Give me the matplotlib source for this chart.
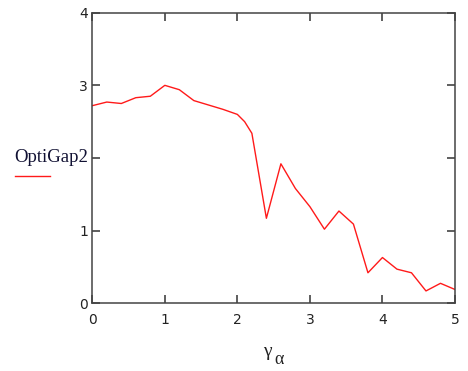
import numpy as np
import matplotlib
matplotlib.use("Agg")
import matplotlib.pyplot as plt
from matplotlib.lines import Line2D

# gamma_alpha values and OptiGap2
gamma = [0.0, 0.2, 0.4, 0.6, 0.8, 1.0, 1.2, 1.4, 1.6, 1.8, 2.0, 2.1, 2.2,
         2.4, 2.6, 2.8, 3.0, 3.2, 3.4, 3.6, 3.8, 4.0, 4.2, 4.4, 4.6, 4.8, 5.0]
optigap2 = [2.72, 2.77, 2.75, 2.83, 2.85, 3.00, 2.94, 2.79, 2.73, 2.67, 2.60, 2.50, 2.34,
            1.17, 1.92, 1.58, 1.33, 1.02, 1.27, 1.09, 0.42, 0.63, 0.47, 0.42, 0.17, 0.275, 0.19]

xticks = [0, 1, 2, 3, 4, 5]
yticks = [0, 1, 2, 3, 4]
# the "2" label sits under the legend text in the original
ytick_labels = ["0", "1", "", "3", "4"]

fig = plt.figure(figsize=(4.68, 3.71), dpi=100)
ax = fig.add_axes([0.1972, 0.1825, 0.775, 0.7833])

ax.plot(gamma, optigap2, color="#ff1a1a", lw=1.0)

ax.set_xlim(0, 5)
ax.set_ylim(0, 4)
ax.set_xticks(xticks)
ax.set_yticks(yticks)
ax.set_yticklabels(ytick_labels)
ax.tick_params(direction="in", length=6, width=1.1, color="#333333",
               top=True, right=True, labelsize=10, labelcolor="#222222")
ax.tick_params(axis="x", pad=7)
ax.tick_params(axis="y", pad=3)
for s in ax.spines.values():
    s.set_color("#444444")
    s.set_linewidth(1.1)

# x label: gamma with alpha subscript
fig.text(267 / 468, 1 - 352 / 371, "γ", family="Liberation Serif", fontsize=14,
         ha="center", va="center", color="#222222")
fig.text(279 / 468, 1 - 360 / 371, "α", family="Liberation Serif", fontsize=13,
         ha="center", va="center", color="#222222")

# legend in Mathcad style
fig.text(0.030, 1 - 158 / 371, "OptiGap2", family="Liberation Serif", fontsize=13.5,
         ha="left", va="center", color="#111133")
fig.add_artist(Line2D([0.032, 0.107], [1 - 176 / 371, 1 - 176 / 371],
                      transform=fig.transFigure, color="#ff1a1a", lw=1.0))

fig.savefig("out.png", dpi=100)
